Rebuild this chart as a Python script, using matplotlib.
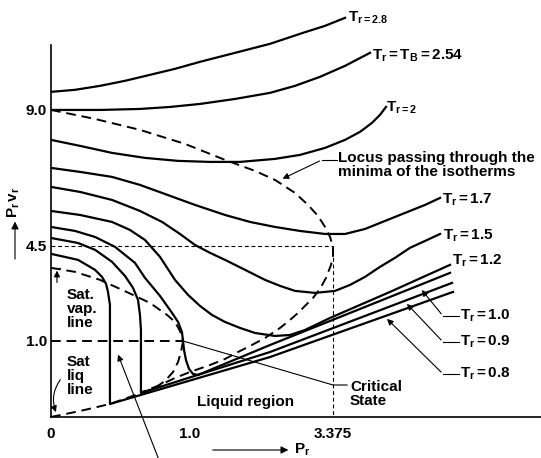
#!/usr/bin/env python3
"""Generalised Pr*vr vs Pr chart (schematic), redrawn with matplotlib."""

import numpy as np
import matplotlib
matplotlib.use("Agg")
import matplotlib.pyplot as plt

# Isotherms (Pr, Pr*vr).
tr28_pr = [0, 0.173, 0.353, 0.532, 0.712, 0.892, 1.166, 1.748, 2.329, 2.877,
           3.243, 3.575]
tr28_pv = [9.599, 9.666, 9.798, 9.964, 10.162, 10.361, 10.593, 10.891, 11.189,
           11.553, 11.785, 12.05]

tr254_pr = [0, 0.353, 0.640, 0.856, 1.166, 1.748, 2.329, 2.744, 3.159, 3.575, 3.990]
tr254_pv = [9.0, 9.0, 9.033, 9.099, 9.199, 9.364, 9.566, 9.798, 10.096, 10.46, 10.891]

tr20_pr = [0, 0.209, 0.439, 0.676, 0.914, 1.332, 1.831, 2.412, 2.827, 3.243,
           3.575, 3.824, 4.023, 4.156, 4.256]
tr20_pv = [8.010, 7.811, 7.579, 7.414, 7.315, 7.281, 7.281, 7.381, 7.513, 7.745,
           8.010, 8.275, 8.573, 8.838, 9.103]

tr17_pr = [0, 0.209, 0.439, 0.640, 0.799, 1.083, 1.581, 1.997, 2.412, 2.827,
           3.243, 3.575, 3.907, 4.239, 4.571, 4.904, 5.153]
tr17_pv = [7.083, 6.950, 6.785, 6.520, 6.255, 5.858, 5.526, 5.295, 5.129, 4.997,
           4.897, 4.897, 5.063, 5.328, 5.593, 5.858, 6.089]

tr15_pr = [0, 0.209, 0.439, 0.640, 0.799, 0.928, 1.083, 1.332, 1.581, 1.914,
           2.246, 2.495, 2.744, 3.076, 3.409, 3.658, 3.907, 4.156, 4.405, 4.654,
           4.904, 5.153]
tr15_pv = [6.454, 6.288, 6.023, 5.659, 5.295, 4.897, 4.533, 4.247, 3.989, 3.620,
           3.251, 3.030, 2.845, 2.771, 2.845, 3.066, 3.362, 3.731, 4.063, 4.432,
           4.666, 4.897]

tr12_pr = [0, 0.209, 0.439, 0.568, 0.676, 0.784, 0.892, 0.986, 1.166, 1.365,
           1.581, 1.831, 2.080, 2.412, 2.661, 2.910, 3.326, 4.322, 5.319]
tr12_pv = [5.659, 5.526, 5.295, 5.030, 4.699, 4.100, 3.251, 2.697, 2.292, 1.959,
           1.701, 1.480, 1.295, 1.185, 1.221, 1.406, 1.849, 2.808, 3.804]

tr10_pr = [0, 0.173, 0.317, 0.460, 0.604, 0.676, 0.784, 0.871, 0.914, 0.942,
           0.950, 0.957, 0.971, 0.993, 1.050, 1.133, 2.329, 5.319]
tr10_pv = [5.129, 4.997, 4.798, 4.469, 3.878, 3.325, 2.661, 2.033, 1.701, 1.332,
           1.0, 0.882, 0.750, 0.632, 0.566, 0.553, 0.947, 3.509]

tr09_pr = [0, 0.194, 0.317, 0.439, 0.532, 0.590, 0.626, 0.640, 0.647, 0.647,
           2.329, 5.352]
tr09_pv = [4.765, 4.599, 4.358, 3.915, 3.399, 2.956, 2.513, 1.959, 1.406, 0.316,
           0.855, 3.140]

tr08_pr = [0, 0.194, 0.317, 0.367, 0.396, 0.410, 0.424, 0.424, 0.424, 2.329, 5.369]
tr08_pv = [4.210, 3.989, 3.620, 3.362, 3.103, 2.808, 2.328, 1.775, 0.171, 0.789, 2.808]

# Dashed curves
locus_pr = [0, 0.317, 0.640, 0.964, 1.581, 2.080, 2.412, 2.744, 2.960, 3.126,
            3.243, 3.326, 3.375, 3.375, 3.342, 3.259, 3.159, 3.043, 2.910, 2.794,
            2.661, 2.495, 2.246, 1.997, 1.797, 1.581, 1.332, 1.0, 0.892, 0.784,
            0.655]
locus_pv = [9.0, 8.702, 8.341, 7.877, 7.348, 6.983, 6.685, 6.255, 5.858, 5.493,
            5.129, 4.798, 4.469, 4.137, 3.804, 3.325, 2.919, 2.587, 2.292, 2.033,
            1.775, 1.480, 1.111, 0.934, 0.855, 0.763, 0.684, 0.592, 0.513, 0.421,
            0.329]

satvap_pr = [0, 0.173, 0.353, 0.496, 0.590, 0.712, 0.835, 0.892, 0.928, 0.950]
satvap_pv = [3.694, 3.546, 3.251, 2.919, 2.697, 2.402, 1.959, 1.701, 1.369, 1.0]

satliq_pr = [0, 0.209, 0.424, 0.647, 0.748, 0.820, 0.878, 0.914, 0.935, 0.950]
satliq_pv = [0, 0.079, 0.171, 0.316, 0.382, 0.474, 0.592, 0.724, 0.855, 1.0]

crit_pr, crit_pv = 0.95, 1.0
pr_c = 3.375
pv_c = 4.5

xtick_vals = [0, 1.0, 3.375]
xtick_text = ["0", "1.0", "3.375"]
ytick_vals = [1.0, 4.5, 9.0]
ytick_text = ["1.0", "4.5", "9.0"]

# Schematic (non-uniform) axis scales
X_BRK = [-20, 0, 1, 3.375, 30]
X_PIX = [-2780, 0, 139, 282, 282 + 26.625 * 60.2]
Y_BRK = [-20, 0, 1, 4.5, 9, 40]
Y_PIX = [-1520, 0, 76, 171, 307, 307 + 31 * 30.2]


def fwd_x(v):
    return np.interp(v, X_BRK, X_PIX)


def inv_x(v):
    return np.interp(v, X_PIX, X_BRK)


def fwd_y(v):
    return np.interp(v, Y_BRK, Y_PIX)


def inv_y(v):
    return np.interp(v, Y_PIX, Y_BRK)


def main():
    plt.rcParams.update({
        'font.family': 'Liberation Sans',
        'mathtext.fontset': 'custom',
        'mathtext.rm': 'Liberation Sans',
        'mathtext.bf': 'Liberation Sans:bold',
        'mathtext.it': 'Liberation Sans:italic',
    })
    fs = 11

    fig = plt.figure(figsize=(5.41, 4.58), dpi=100)
    ax = fig.add_axes([51 / 541, 41 / 458, 490 / 541, 417 / 458])
    ax.set_xscale('function', functions=(fwd_x, inv_x))
    ax.set_yscale('function', functions=(fwd_y, inv_y))
    ax.set_xlim(0, 6.83)
    ax.set_ylim(0, 12.64)

    solid = dict(color='black', lw=1.6, solid_joinstyle='round')
    for xs, ys in [(tr28_pr, tr28_pv), (tr254_pr, tr254_pv), (tr20_pr, tr20_pv),
                   (tr17_pr, tr17_pv), (tr15_pr, tr15_pv), (tr12_pr, tr12_pv),
                   (tr10_pr, tr10_pv), (tr09_pr, tr09_pv), (tr08_pr, tr08_pv)]:
        ax.plot(xs, ys, **solid)

    dashed = dict(color='black', lw=1.4, linestyle=(0, (5, 3)))
    ax.plot(locus_pr, locus_pv, **dashed)
    ax.plot(satvap_pr, satvap_pv, **dashed)
    ax.plot(satliq_pr, satliq_pv, **dashed)
    ax.plot([0, crit_pr], [crit_pv, crit_pv], **dashed)

    fine = dict(color='black', lw=0.8, linestyle=(0, (3.5, 2.5)))
    ax.plot([0, pr_c, pr_c], [pv_c, pv_c, 0], **fine)

    # axes
    for s in ['top', 'right']:
        ax.spines[s].set_visible(False)
    ax.spines['left'].set_bounds(0, 11.15)
    ax.spines['left'].set_linewidth(1.2)
    ax.spines['bottom'].set_linewidth(1.2)
    ax.set_xticks(xtick_vals)
    ax.set_xticklabels(xtick_text, fontsize=fs, fontweight='bold')
    ax.set_yticks(ytick_vals)
    ax.set_yticklabels(ytick_text, fontsize=fs, fontweight='bold')
    ax.set_xticks([1.0], minor=True)
    ax.set_yticks([], minor=True)
    ax.tick_params(axis='x', which='major', length=0, pad=7)
    ax.tick_params(axis='y', which='major', length=0, pad=3)
    ax.tick_params(axis='x', which='minor', direction='in', length=7, width=1)

    tx = dict(fontsize=fs, fontweight='bold', va='center', ha='left')
    ax.text(3.625, 12.05, r"$\mathbf{T_{r = 2.8}}$", **tx)
    ax.text(4.023, 10.79, r"$\mathbf{T_r = T_B = 2.54}$", **tx)
    ax.text(4.256, 9.07, r"$\mathbf{T_{r = 2}}$", **tx)
    ax.text(5.186, 6.02, r"$\mathbf{T_r = 1.7}$", **tx)
    ax.text(5.203, 4.83, r"$\mathbf{T_r = 1.5}$", **tx)
    ax.text(5.352, 3.95, r"$\mathbf{T_r = 1.2}$", **tx)
    ax.text(5.485, 1.92, r"$\mathbf{T_r = 1.0}$", **tx)
    ax.text(5.485, 0.987, r"$\mathbf{T_r = 0.9}$", **tx)
    ax.text(5.485, 0.566, r"$\mathbf{T_r = 0.8}$", **tx)

    ax.text(3.458, 7.646, "Locus passing through the\nminima of the isotherms",
            fontsize=fs, fontweight='bold', ha='left', va='top', linespacing=1.0)
    ax.text(3.658, 0.303, "Critical\nState", fontsize=fs, fontweight='bold',
            ha='left', va='center', linespacing=1.05)
    ax.text(1.116, 0.197, "Liquid region", **tx)
    ax.text(0.115, 2.18, "Sat.\nvap.\nline", fontsize=fs, fontweight='bold',
            ha='left', va='center', linespacing=1.0)
    ax.text(0.115, 0.539, "Sat\nliq\nline", fontsize=fs, fontweight='bold',
            ha='left', va='center', linespacing=1.0)

    thin = dict(color='black', lw=0.8)
    arrow = dict(arrowstyle='-|>', color='black', lw=0.8, mutation_scale=9)

    # leader lines
    ax.plot([3.442, 3.193], [7.35, 7.35], **thin)
    ax.annotate('', xy=(2.495, 6.685), xytext=(3.193, 7.35), arrowprops=arrow)
    for ly, tip in [(1.92, (4.821, 2.956)), (0.987, (4.571, 2.44)),
                    (0.566, (4.239, 1.886))]:
        ax.plot([5.469, 5.203], [ly, ly], **thin)
        ax.annotate('', xy=tip, xytext=(5.203, ly), arrowprops=arrow)
    ax.plot([crit_pr, pr_c, 3.608], [crit_pv, 0.421, 0.421], **thin)

    ax.plot([0.025, 0.065], [3.694, 3.694], **thin)
    ax.annotate('', xy=(0.043, 3.694), xytext=(0.043, 3.05), arrowprops=arrow)
    ax.annotate('', xy=(0.043, 0.03), xytext=(0.079, 0.52),
                arrowprops=dict(arrow, connectionstyle='arc3,rad=0.3'))
    ax.annotate('', xy=(0.475, 0.855), xytext=(0.784, -0.6),
                arrowprops=arrow, annotation_clip=False)

    # axis titles with arrows
    ax.annotate('', xy=(2.68, -0.434), xytext=(1.332, -0.434),
                arrowprops=dict(arrow, mutation_scale=11), annotation_clip=False)
    ax.text(2.72, -0.434, r"$\mathbf{P_r}$", fontsize=fs, fontweight='bold',
            ha='left', va='center', clip_on=False)
    ax.annotate('', xy=(-0.259, 5.40), xytext=(-0.259, 3.915),
                arrowprops=dict(arrow, mutation_scale=11), annotation_clip=False)
    ax.text(-0.266, 5.95, r"$\mathbf{P_r\,v_r}$", fontsize=fs, fontweight='bold',
            rotation=90, ha='center', va='center', clip_on=False)

    fig.savefig("out.png", dpi=100)


if __name__ == '__main__':
    main()
